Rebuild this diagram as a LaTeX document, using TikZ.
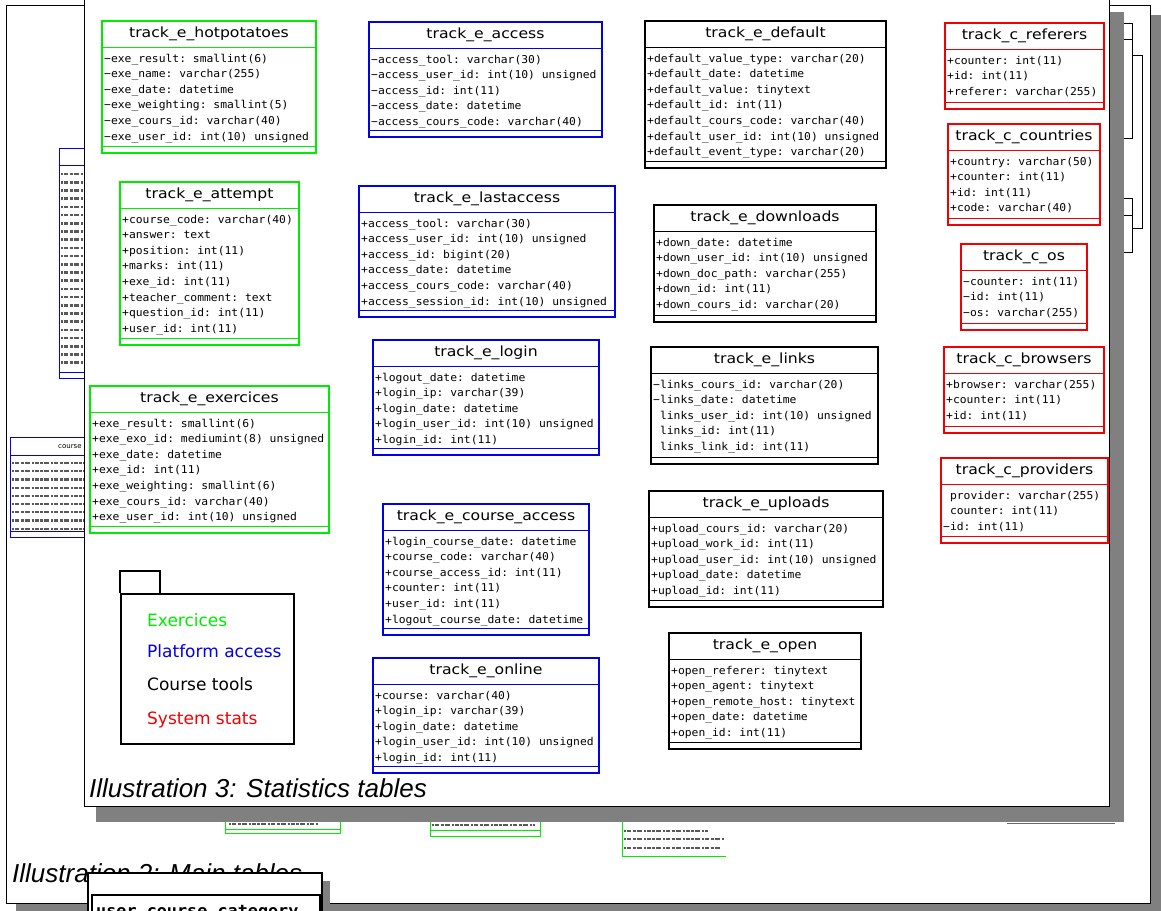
\documentclass[tikz,border=0pt]{standalone}
\usepackage{fontspec}
\setmainfont{DejaVu Sans}
\setmonofont{DejaVu Sans Mono}[FakeStretch=1.05]
\newfontfamily\titlefont{DejaVu Sans}[FakeStretch=1.12]
\newfontfamily\capfont{Liberation Sans}
\usetikzlibrary{calc}
\definecolor{exgreen}{RGB}{0,235,0}
\definecolor{acblue}{RGB}{0,0,235}
\definecolor{stred}{RGB}{240,0,0}
\definecolor{shade}{RGB}{128,128,128}

\tikzset{
  tblbox/.style={draw, line width=2pt, fill=white, inner sep=0pt, anchor=north west},
  tblsep/.style={line width=1.4pt},
  tbltitle/.style={font=\titlefont\fontsize{14}{16}\selectfont, inner sep=0pt},
  tblrow/.style={font=\ttfamily\fontsize{10.8}{12}\selectfont, inner sep=0pt, anchor=base west},
  legendtext/.style={font=\fontsize{17}{20}\selectfont, anchor=base west, inner sep=0pt},
  caption/.style={font=\capfont\itshape\fontsize{26}{30}\selectfont, anchor=base west, inner sep=0pt},
  page/.style={draw, fill=white, line width=0.8pt},
  pageshadow/.style={fill=shade},
  minibox/.style={draw=#1, line width=0.8pt, fill=white},
  minitext/.style={line width=2.6pt, black!65, dash pattern=on 2pt off 1pt on 4pt off 1.5pt on 3pt off 1pt on 5pt off 2pt},
}

% name, colour, x1, y1, x2, y2, title, rows
\newcommand{\dbtable}[8]{%
  \node[tblbox, draw=#2, minimum width={#5-#3}, minimum height={#6-#4}] (#1) at (#3,#4) {};
  \draw[tblsep, #2] ([yshift=-27.5pt]#1.north west) -- ([yshift=-27.5pt]#1.north east);
  \draw[tblsep, #2] ([yshift=7.5pt]#1.south west) -- ([yshift=7.5pt]#1.south east);
  \node[tbltitle] (#1-title) at ([yshift=-14pt]#1.north) {#7};
  \foreach \r [count=\i] in {#8}
    \node[tblrow] (#1-\i) at ([xshift=3pt, yshift={-42pt-(\i-1)*15.6pt}]#1.north west) {\r};
}

\begin{document}
\begin{tikzpicture}[x=1pt, y=-1pt]
\useasboundingbox (0,0) rectangle (1161,910);

% page behind
\fill[pageshadow] (16,15) rectangle (1161,925);
\draw[page] (6,5) rectangle (1150,903);
% small tables of that page
\draw[minibox=acblue] (59,148) rectangle (100,378);
\draw[acblue, line width=0.8pt] (59,165) -- (100,165) (59,372) -- (100,372);
\foreach \k in {0,...,23}
  \draw[minitext] (61,{174+\k*8.2}) -- (84,{174+\k*8.2});
\draw[minibox=acblue] (10,437) rectangle (100,537);
\draw[acblue, line width=0.8pt] (10,455) -- (100,455) (10,531) -- (100,531);
\node[font=\fontsize{7}{8}\selectfont, anchor=west, inner sep=0pt] (mini-course) at (58,447) {course};
\foreach \k in {0,...,8}
  \draw[minitext, line width=2.2pt] (12,{463+\k*8.2}) -- (84,{463+\k*8.2});
\draw[minibox=exgreen] (225,800) rectangle (340,833);
\draw[exgreen, line width=0.8pt] (225,829) -- (340,829);
\draw[minitext, line width=2.2pt] (229,824) -- (318,824);
\draw[minibox=exgreen] (430,800) rectangle (540,836);
\draw[exgreen, line width=0.8pt] (430,830) -- (540,830);
\draw[minitext, line width=2.2pt] (432,817) -- (515,817);
\draw[minitext, line width=2.2pt] (432,825) -- (535,825);
\draw[exgreen, line width=0.8pt] (622,810) -- (622,856) -- (726,856);
\foreach \yy/\ww in {821/70, 831/84, 839/100, 848/96}
  \draw[minitext, line width=2.2pt] (624,\yy) -- ++(\ww,0);
\draw[black!60, line width=0.8pt] (1007,823) -- (1115,823);
\draw[line width=0.7pt] (1118,23) -| (1132,39) -- (1118,39);
\draw[line width=0.7pt] (1132,39) -- (1132,138) -- (1118,138);
\draw[line width=0.7pt] (1133,55) -- (1142,55) -- (1142,228) -- (1133,228);
\draw[line width=0.7pt] (1118,198) -| (1132,215) -- (1118,215);
\draw[line width=0.7pt] (1132,215) -- (1132,252) -- (1118,252);
\node[caption] (cap2) at (12,882) {Illustration 2: Main tables};

% table cut by the bottom edge
\fill[pageshadow] (97,881) rectangle (330,925);
\draw[line width=1.4pt, fill=white] (88,873) rectangle (322,925);
\node[tblbox, draw=black, line width=2.2pt, minimum width=228, minimum height=40] (ucc) at (91,894) {};
\node[font=\ttfamily\bfseries\fontsize{16}{18}\selectfont, anchor=base west, inner sep=0pt] (ucc-title) at (96,916) {user\_course\_category};

% front page
\fill[pageshadow] (96,12) rectangle (1124,822);
\draw[page] (84,-5) rectangle (1109,806);

% exercices
\dbtable{hotpot}{exgreen}{101}{20}{315}{152}{track\_e\_hotpotatoes}{%
  −exe\_result: smallint(6), −exe\_name: varchar(255), −exe\_date: datetime,
  −exe\_weighting: smallint(5), −exe\_cours\_id: varchar(40),
  −exe\_user\_id: int(10) unsigned}
\dbtable{attempt}{exgreen}{119}{181}{298}{344}{track\_e\_attempt}{%
  +course\_code: varchar(40), +answer: text, +position: int(11), +marks: int(11),
  +exe\_id: int(11), +teacher\_comment: text, +question\_id: int(11), +user\_id: int(11)}
\dbtable{exercices}{exgreen}{89}{385}{328}{532}{track\_e\_exercices}{%
  +exe\_result: smallint(6), +exe\_exo\_id: mediumint(8) unsigned, +exe\_date: datetime,
  +exe\_id: int(11), +exe\_weighting: smallint(6), +exe\_cours\_id: varchar(40),
  +exe\_user\_id: int(10) unsigned}

% platform access
\dbtable{access}{acblue}{368}{21}{601}{136}{track\_e\_access}{%
  −access\_tool: varchar(30), −access\_user\_id: int(10) unsigned, −access\_id: int(11),
  −access\_date: datetime, −access\_cours\_code: varchar(40)}
\dbtable{lastaccess}{acblue}{358}{185}{614}{316}{track\_e\_lastaccess}{%
  +access\_tool: varchar(30), +access\_user\_id: int(10) unsigned, +access\_id: bigint(20),
  +access\_date: datetime, +access\_cours\_code: varchar(40),
  +access\_session\_id: int(10) unsigned}
\dbtable{login}{acblue}{372}{339}{598}{454}{track\_e\_login}{%
  +logout\_date: datetime, +login\_ip: varchar(39), +login\_date: datetime,
  +login\_user\_id: int(10) unsigned, +login\_id: int(11)}
\dbtable{courseaccess}{acblue}{382}{503}{588}{634}{track\_e\_course\_access}{%
  +login\_course\_date: datetime, +course\_code: varchar(40), +course\_access\_id: int(11),
  +counter: int(11), +user\_id: int(11), +logout\_course\_date: datetime}
\dbtable{online}{acblue}{372}{657}{598}{772}{track\_e\_online}{%
  +course: varchar(40), +login\_ip: varchar(39), +login\_date: datetime,
  +login\_user\_id: int(10) unsigned, +login\_id: int(11)}

% course tools
\dbtable{default}{black}{644}{20}{885}{167}{track\_e\_default}{%
  +default\_value\_type: varchar(20), +default\_date: datetime, +default\_value: tinytext,
  +default\_id: int(11), +default\_cours\_code: varchar(40),
  +default\_user\_id: int(10) unsigned, +default\_event\_type: varchar(20)}
\dbtable{downloads}{black}{653}{204}{875}{321}{track\_e\_downloads}{%
  +down\_date: datetime, +down\_user\_id: int(10) unsigned, +down\_doc\_path: varchar(255),
  +down\_id: int(11), +down\_cours\_id: varchar(20)}
\dbtable{links}{black}{650}{346}{877}{463}{track\_e\_links}{%
  −links\_cours\_id: varchar(20), −links\_date: datetime,
  \phantom{+}links\_user\_id: int(10) unsigned, \phantom{+}links\_id: int(11),
  \phantom{+}links\_link\_id: int(11)}
\dbtable{uploads}{black}{648}{490}{882}{606}{track\_e\_uploads}{%
  +upload\_cours\_id: varchar(20), +upload\_work\_id: int(11),
  +upload\_user\_id: int(10) unsigned, +upload\_date: datetime, +upload\_id: int(11)}
\dbtable{open}{black}{668}{632}{860}{748}{track\_e\_open}{%
  +open\_referer: tinytext, +open\_agent: tinytext, +open\_remote\_host: tinytext,
  +open\_date: datetime, +open\_id: int(11)}

% system stats
\dbtable{referers}{stred}{944}{22}{1103}{108}{track\_c\_referers}{%
  +counter: int(11), +id: int(11), +referer: varchar(255)}
\dbtable{countries}{stred}{947}{123}{1099}{224}{track\_c\_countries}{%
  +country: varchar(50), +counter: int(11), +id: int(11), +code: varchar(40)}
\dbtable{os}{stred}{960}{243}{1086}{329}{track\_c\_os}{%
  −counter: int(11), −id: int(11), −os: varchar(255)}
\dbtable{browsers}{stred}{943}{346}{1103}{432}{track\_c\_browsers}{%
  +browser: varchar(255), +counter: int(11), +id: int(11)}
\dbtable{providers}{stred}{940}{457}{1107}{542}{track\_c\_providers}{%
  \phantom{+}provider: varchar(255), \phantom{+}counter: int(11), −id: int(11)}

% legend
\draw[line width=1.6pt] (120,593) |- (160,571) -- (160,593);
\node[draw, line width=1.6pt, inner sep=0pt, anchor=north west,
      minimum width=173, minimum height=150] (legend) at (120,593) {};
\node[legendtext, exgreen] (lg-ex) at (147,626) {Exercices};
\node[legendtext, acblue] (lg-pa) at (147,657) {Platform access};
\node[legendtext] (lg-ct) at (147,690) {Course tools};
\node[legendtext, stred] (lg-ss) at (147,724) {System stats};

\node[caption] (cap3) at (89,797) {Illustration 3: Statistics tables};
\end{tikzpicture}
\end{document}
